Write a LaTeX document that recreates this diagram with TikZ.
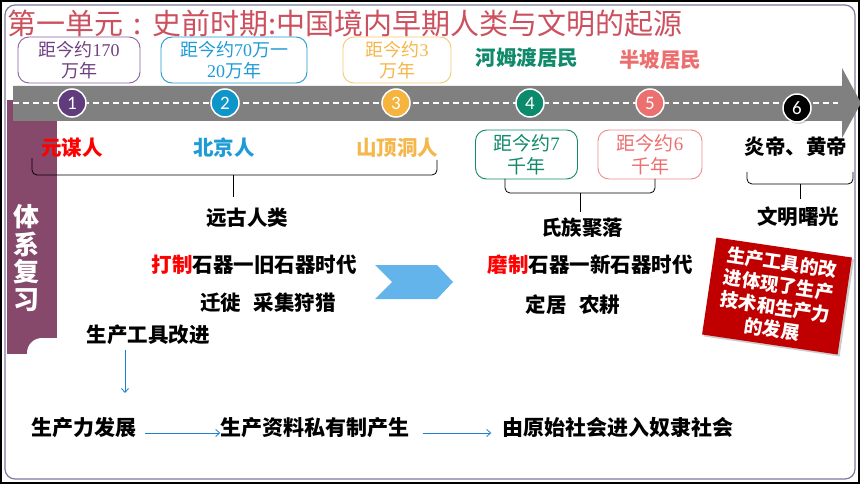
\documentclass[tikz,border=0pt]{standalone}
\usepackage{fontspec}
\setmainfont{Noto Sans CJK SC}
\newfontfamily\serifdig{Liberation Serif}
\newfontfamily\numfont{Carlito}
\usetikzlibrary{shadows,arrows.meta}
\definecolor{titlered}{RGB}{204,80,94}
\definecolor{framecol}{RGB}{125,120,160}
\definecolor{barpurple}{RGB}{135,73,107}
\definecolor{bandgray}{RGB}{128,128,128}
\definecolor{cpurple}{RGB}{96,60,124}
\definecolor{cblue}{RGB}{14,150,202}
\definecolor{corange}{RGB}{245,180,62}
\definecolor{cgreen}{RGB}{12,138,108}
\definecolor{csalmon}{RGB}{236,112,112}
\definecolor{tpurple}{RGB}{110,64,130}
\definecolor{bpurple}{RGB}{140,96,160}
\definecolor{tblue}{RGB}{30,155,215}
\definecolor{torange}{RGB}{245,182,74}
\definecolor{borange}{RGB}{248,200,112}
\definecolor{tgreen}{RGB}{16,138,106}
\definecolor{tsalmon}{RGB}{236,110,110}
\definecolor{bsalmon}{RGB}{240,140,140}
\definecolor{chevblue}{RGB}{99,180,234}
\definecolor{darkred}{RGB}{192,0,0}
\definecolor{arrowblue}{RGB}{32,128,208}
\definecolor{hot}{RGB}{255,0,0}
\begin{document}
\begin{tikzpicture}[x=1pt,y=-1pt,
  datebox/.style={draw, rounded corners=11pt, line width=0.9pt, align=center, inner sep=0pt},
  numcirc/.style={circle, draw=white, line width=1.5pt, minimum size=28pt, inner sep=0pt, text=white,
    font=\numfont\fontsize{19}{19}\selectfont,
    drop shadow={shadow xshift=1.5pt, shadow yshift=-2pt, opacity=0.35}},
  lbl/.style={inner sep=0pt, font=\bfseries\fontsize{20.5}{24}\selectfont},
  bracepath/.style={draw=black, line width=0.8pt, rounded corners=5pt},
  arr/.style={draw=arrowblue, line width=0.8pt, -{Straight Barb[length=4pt,width=7pt]}},
  redbox/.style={fill=darkred, text=white, align=center, inner sep=0pt,
    minimum width=137pt, minimum height=98pt,
    font=\bfseries\fontsize{18.5}{22.5}\selectfont,
    drop shadow={shadow xshift=2pt, shadow yshift=-2pt, opacity=0.4}}
]
\useasboundingbox (0,0) rectangle (860,484);
\fill[white] (0,0) rectangle (860,484);
\draw[black, line width=2pt] (1,1) rectangle (859,483);
\draw[framecol, line width=1.2pt, rounded corners=10pt] (5,5) rectangle (855,479);

% title
\node[anchor=west, inner sep=0pt, text=titlered, font=\fontsize{29}{30}\selectfont] (title) at (7,23)
  {第一单元\hspace{0.36em}:\hspace{0.36em}史前时期:中国境内早期人类与文明的起源};

% side bar
\fill[barpurple] (7,100) rectangle (57,354);
\fill[white, rounded corners=15pt] (27,338) rectangle (75,375);
\node[inner sep=0pt, text=white, align=center, font=\bfseries\fontsize{26}{27.5}\selectfont] (side) at (26,258)
  {体\\系\\复\\习};

% gray arrow band
\fill[bandgray] (13,86) -- (842,86) -- (842,68) -- (861,103) -- (842,138) -- (842,121) -- (13,121) -- cycle;
\coordinate (dashA) at (13,103);
\coordinate (dashB) at (838,103);
\draw[white, line width=1.3pt, dash pattern=on 6pt off 4pt] (dashA) -- (dashB);

% number circles
\node[numcirc, fill=cpurple] (n1) at (72,103) {1};
\node[numcirc, fill=cblue] (n2) at (225,103) {2};
\node[numcirc, fill=corange] (n3) at (396,103) {3};
\node[numcirc, fill=cgreen] (n4) at (530,103) {4};
\node[numcirc, fill=csalmon] (n5) at (650,103) {5};
\node[numcirc, fill=black] (n6) at (797,108) {6};

% date boxes
\node[datebox, draw=bpurple, text=tpurple, minimum width=122pt, minimum height=46pt,
  font=\fontsize{18}{21}\selectfont] (d1) at (79,60) {距今约{\serifdig 170}\\万年};
\node[datebox, draw=tblue, text=tblue, minimum width=146pt, minimum height=46pt,
  font=\fontsize{18}{21}\selectfont] (d2) at (234,60) {距今约{\serifdig 70}万一\\{\serifdig 20}万年};
\node[datebox, draw=borange, text=torange, minimum width=108pt, minimum height=46pt,
  font=\fontsize{18}{21}\selectfont] (d3) at (397,60) {距今约{\serifdig 3}\\万年};
\node[datebox, draw=tgreen, text=tgreen, minimum width=102pt, minimum height=49pt,
  font=\fontsize{19}{23}\selectfont] (d4) at (526.5,154.5) {距今约{\serifdig 7}\\千年};
\node[datebox, draw=bsalmon, text=tsalmon, minimum width=104pt, minimum height=49pt,
  font=\fontsize{19}{23}\selectfont] (d5) at (650,154.5) {距今约{\serifdig 6}\\千年};

% colored labels
\node[lbl, text=tgreen] (hmd) at (527,58) {河姆渡居民};
\node[lbl, text=tsalmon] (bp) at (660,60) {半坡居民};
\node[lbl, text=hot] (ymr) at (72,148) {元谋人};
\node[lbl, text=tblue] (bjr) at (224,148) {北京人};
\node[lbl, text=torange] (sdd) at (397,148) {山顶洞人};
\node[lbl] (yh) at (796,147) {炎帝、黄帝};

% braces
\coordinate (b1L) at (32,158); \coordinate (b1R) at (437,160);
\coordinate (b1C) at (233,175); \coordinate (b1T) at (233,197);
\draw[bracepath] (b1L) -- (b1L |- b1C) -- (b1R |- b1C) -- (b1R);
\draw[line width=0.8pt] (b1C) -- (b1T);
\coordinate (b2L) at (505,179); \coordinate (b2R) at (655,179);
\coordinate (b2C) at (580,193); \coordinate (b2T) at (580,212);
\draw[bracepath] (b2L) -- (b2L |- b2C) -- (b2R |- b2C) -- (b2R);
\draw[line width=0.8pt] (b2C) -- (b2T);
\coordinate (b3L) at (747,172); \coordinate (b3R) at (853,172);
\coordinate (b3C) at (800,184); \coordinate (b3T) at (800,199);
\draw[bracepath] (b3L) -- (b3L |- b3C) -- (b3R |- b3C) -- (b3R);
\draw[line width=0.8pt] (b3C) -- (b3T);

% left column texts
\node[lbl] (ygrl) at (247,218) {远古人类};
\node[lbl] (dz) at (254,265) {{\color{hot}打制}石器一旧石器时代};
\node[lbl] (qx) at (268,303) {迁徙\hspace{0.6em}采集狩猎};
\node[lbl] (gj) at (148,335) {生产工具改进};

% chevron
\fill[chevblue] (375,265) -- (437,265) -- (453,282) -- (437,299) -- (375,299) -- (392,282) -- cycle;

% middle column texts
\node[lbl] (szjl) at (582,228) {氏族聚落};
\node[lbl] (mz) at (590,265) {{\color{hot}磨制}石器一新石器时代};
\node[lbl] (dj) at (573,305) {定居\hspace{0.6em}农耕};
\node[lbl] (wm) at (798,217) {文明曙光};

% red box
\node[redbox, rotate=-8.4] (rb) at (777,296) {生产工具的改\\进体现了生产\\技术和生产力\\的发展};

% bottom chain
\node[lbl, font=\bfseries\fontsize{21}{24}\selectfont] (scl) at (84,428) {生产力发展};
\node[lbl, font=\bfseries\fontsize{21}{24}\selectfont] (zl) at (315,428) {生产资料私有制产生};
\node[lbl, font=\bfseries\fontsize{21}{24}\selectfont] (ys) at (618,428) {由原始社会进入奴隶社会};

\coordinate (dA) at (125,350);
\coordinate (dB) at (125,393);
\draw[arr] (dA) -- (dB);
\draw[arr] ([xshift=8pt,yshift=-5pt]scl.east) -- ([yshift=-5pt]zl.west);
\draw[arr] ([xshift=13pt,yshift=-5pt]zl.east) -- ([xshift=-11pt,yshift=-5pt]ys.west);
\end{tikzpicture}
\end{document}
